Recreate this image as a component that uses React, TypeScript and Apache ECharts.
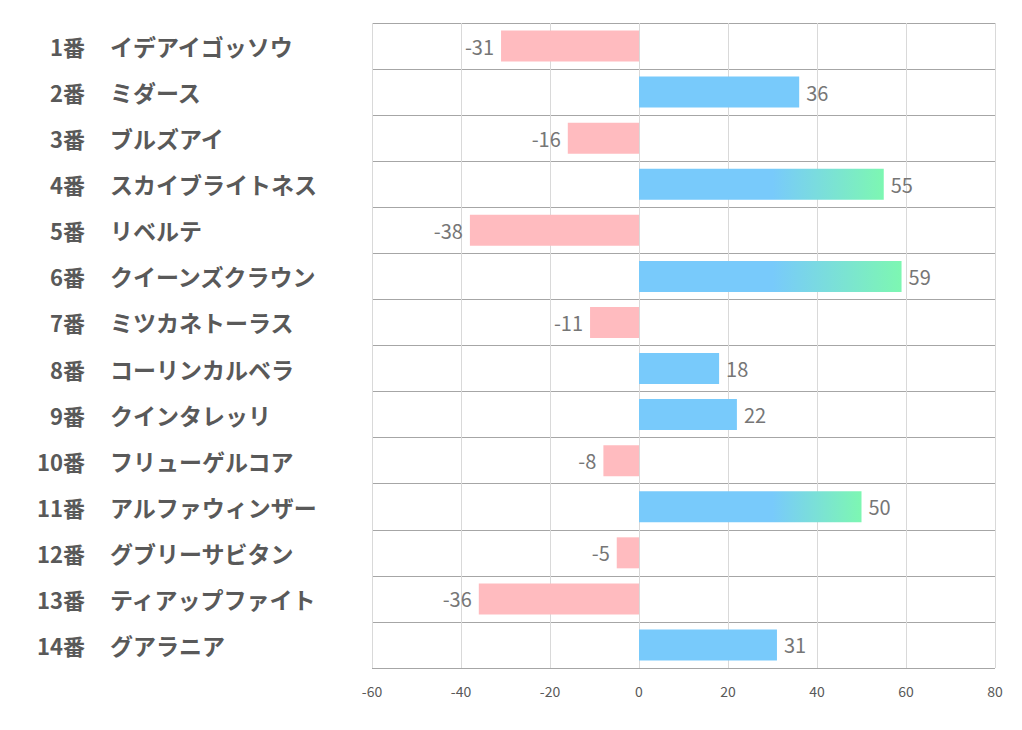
import React, { useEffect, useRef } from "react";
import * as echarts from "echarts";

const numbers = ["1番", "2番", "3番", "4番", "5番", "6番", "7番", "8番", "9番", "10番", "11番", "12番", "13番", "14番"];
const names = [
  "イデアイゴッソウ", "ミダース", "ブルズアイ", "スカイブライトネス", "リベルテ", "クイーンズクラウン",
  "ミツカネトーラス", "コーリンカルベラ", "クインタレッリ", "フリューゲルコア", "アルファウィンザー",
  "グブリーサビタン", "ティアップファイト", "グアラニア",
];
const values = [-31, 36, -16, 55, -38, 59, -11, 18, 22, -8, 50, -5, -36, 31];
const xTicks = { min: -60, max: 80, interval: 20 };
const gradientStart = 30;
const gradientThreshold = 45;

const BLUE = "#78CAFB";
const GREEN = "#7DF7B2";
const PINK = "#FFBBBF";
const FONT = "Noto Sans CJK JP";

export default function App() {
  const ref = useRef<HTMLDivElement>(null);
  useEffect(() => {
    if (!ref.current) return;
    const chart = echarts.init(ref.current, undefined, { renderer: "svg" });
    const data = values.map((v) => {
      let color: any = v < 0 ? PINK : BLUE;
      if (v >= gradientThreshold) {
        const off = gradientStart / v;
        color = new echarts.graphic.LinearGradient(0, 0, 1, 0, [
          { offset: 0, color: BLUE },
          { offset: off, color: BLUE },
          { offset: 1, color: GREEN },
        ]);
      }
      return {
        value: v,
        itemStyle: { color },
        label: { position: v < 0 ? "left" : "right" },
      };
    });
    const baseY = {
      type: "category",
      inverse: true,
      position: "left",
      offset: 0,
      axisLine: { show: false },
      axisTick: { show: false },
    };
    chart.setOption({
      animation: false,
      grid: { left: 372, right: 27, top: 23, bottom: 62, containLabel: false },
      xAxis: {
        type: "value",
        min: xTicks.min,
        max: xTicks.max,
        interval: xTicks.interval,
        axisLine: { show: false },
        axisTick: { show: false },
        axisLabel: { color: "#595959", fontSize: 14, margin: 16, fontFamily: FONT },
        splitLine: { show: true, lineStyle: { color: "#D9D9D9", width: 1 } },
      },
      yAxis: [
        {
          ...baseY,
          data: names,
          splitLine: { show: true, lineStyle: { color: "#A6A6A6", width: 1 } },
          axisLabel: {
            margin: 262,
            align: "left",
            fontSize: 23,
            fontWeight: "bold",
            color: "#595959",
            fontFamily: FONT,
          },
        },
        {
          ...baseY,
          data: numbers,
          splitLine: { show: false },
          axisLabel: {
            margin: 287,
            align: "right",
            fontSize: 22,
            fontWeight: "bold",
            color: "#595959",
            fontFamily: FONT,
          },
        },
      ],
      series: [
        {
          type: "bar",
          yAxisIndex: 0,
          data,
          barWidth: 31,
          label: {
            show: true,
            color: "#767676",
            fontSize: 20,
            distance: 7,
            fontFamily: FONT,
          },
        },
      ],
    });
    return () => chart.dispose();
  }, []);
  return <div ref={ref} style={{ width: 1022, height: 730, position: "absolute", left: 0, top: 0 }} />;
}
